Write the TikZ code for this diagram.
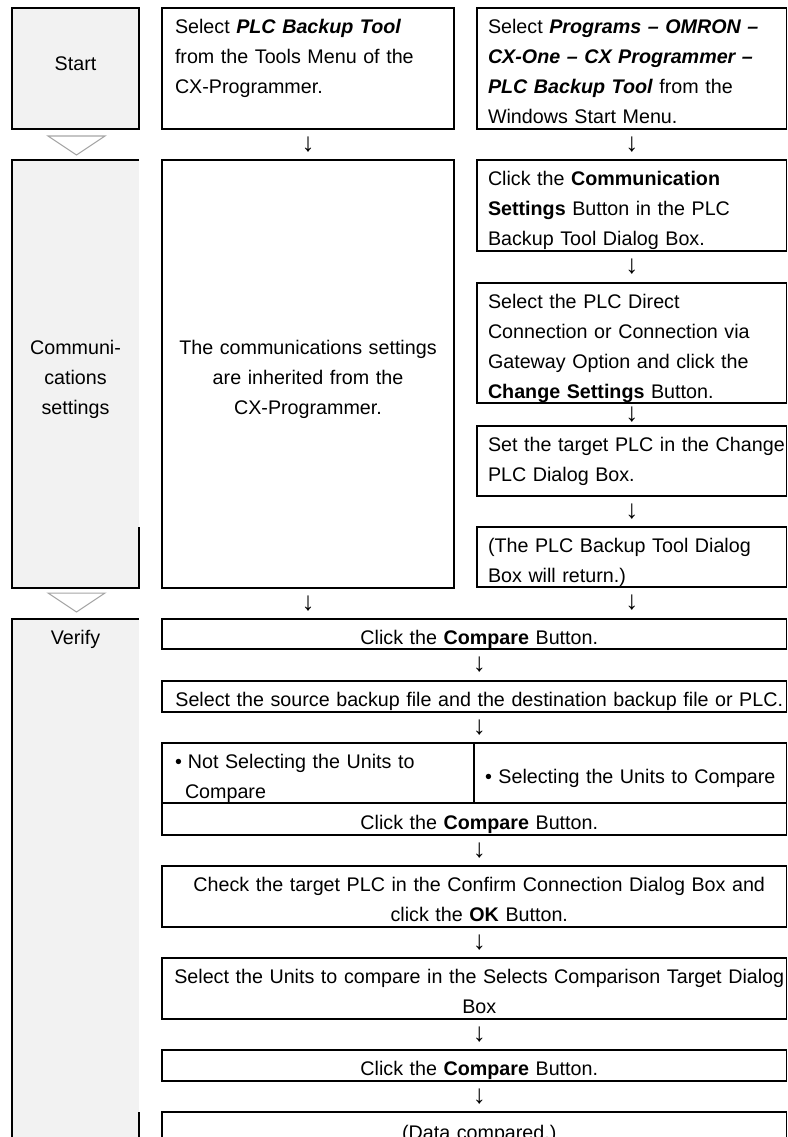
\documentclass[tikz,border=0pt]{standalone}
\usepackage{fontspec}
\setmainfont{Liberation Sans}
\usetikzlibrary{calc}
\definecolor{cellgray}{HTML}{F2F2F2}
\definecolor{trigray}{HTML}{A6A6A6}
\newcommand\lz{\rule[-5pt]{0pt}{30pt}}
\newcommand\ml[1]{\lz\hspace*{11pt}\mbox{#1}}
\newcommand\mm[1]{\lz\hspace*{13pt}\mbox{#1}}
\newcommand\mc[1]{\lz\makebox[624pt][c]{\hspace*{10pt}#1}}
\newcommand\bi[1]{\textbf{\textit{#1}}}
\newcommand\dep[1]{\rule[-#1]{0pt}{#1}}
\begin{document}
\begin{tikzpicture}[x=1pt,y=-1pt,
  every node/.style={font=\fontsize{19.7}{30}\selectfont,inner sep=0pt,outer sep=0pt},
  frame/.style={draw=black,line width=1.1pt},
  cell/.style 2 args={anchor=north west,minimum width=#1,minimum height=#2,text width=#1},
  cellfill/.style={fill=cellgray},
  tri/.style={draw=trigray,fill=white,line width=1pt},
  arr/.style={anchor=center,font=\fontsize{26}{26}\selectfont},
  vshift/.style={xshift=5pt}
]
\useasboundingbox (0,0) rectangle (787,1137);
\fill[white] (0,0) rectangle (787,1137);

% left column (phases)
\node[cell={127pt}{121pt},frame,cellfill,align=center] (s1) at (12,8) {\lz Start\dep{21pt}};
\node[cell={127pt}{428pt},cellfill,align=center] (c1) at (12,160) {\lz Communi-\\\lz cations\\\lz settings};
\draw[line width=1.1pt] (c1.north east) -- (c1.north west) -- (c1.south west) -- (c1.south east) -- ++(0,-61);
\node[cell={127pt}{541pt},cellfill,align=center] (v0) at (12,619) {\lz Verify\dep{516pt}};
\draw[line width=1.1pt] (v0.south west) -- (v0.north west) -- (v0.north east);
\draw[line width=1.1pt] (v0.north east) ++(0,493) -- (v0.south east);

\draw[tri] (48,136) -- (105,136) -- (76.5,155) -- cycle;
\draw[tri] (48,593) -- (105,593) -- (76.5,612) -- cycle;

% start row
\node[cell={292pt}{121pt},frame,align=left] (s2) at (162,8)
  {\mm{Select \bi{PLC Backup Tool}}\\\mm{from the Tools Menu of the}\\\mm{CX-Programmer.}\\\lz};
\node[cell={309.5pt}{121pt},frame,align=left] (s3) at (477,8)
  {\ml{Select \bi{Programs – OMRON –}}\\\ml{\bi{CX-One – CX Programmer –}}\\\ml{\bi{PLC Backup Tool} from the}\\\ml{Windows Start Menu.}};

% communications settings
\node[cell={292pt}{428pt},frame,align=center] (c2) at (162,160)
  {\lz The communications settings\\\lz are inherited from the\\\lz CX-Programmer.};
\node[cell={309.5pt}{91pt},frame,align=left] (r1) at (477,160)
  {\ml{Click the \textbf{Communication}}\\\ml{\textbf{Settings} Button in the PLC}\\\ml{Backup Tool Dialog Box.}};
\node[cell={309.5pt}{120pt},frame,align=left] (r2) at (477,283)
  {\ml{Select the PLC Direct}\\\ml{Connection or Connection via}\\\ml{Gateway Option and click the}\\\ml{\textbf{Change Settings} Button.}};
\node[cell={309.5pt}{70pt},frame,align=left] (r3) at (477,426)
  {\ml{Set the target PLC in the Change}\\\ml{PLC Dialog Box.}\dep{15pt}};
\node[cell={309.5pt}{60pt},frame,align=left] (r4) at (477,527)
  {\ml{(The PLC Backup Tool Dialog}\\\ml{Box will return.)}};

% verify
\node[cell={624.5pt}{30pt},frame,align=center] (v1) at (162,619)
  {\mc{Click the \textbf{Compare} Button.}};
\node[cell={624.5pt}{31pt},frame,align=center] (v2) at (162,681)
  {\mc{Select the source backup file and the destination backup file or PLC.}};
\node[cell={312pt}{60pt},frame,align=left] (v3a) at (162,743)
  {\mm{•\hspace{6pt}Not Selecting the Units to}\\\lz\hspace*{23pt}\mbox{Compare}};
\node[cell={312.5pt}{60pt},frame,align=center] (v3b) at (474,743)
  {\lz\mbox{•~Selecting the Units to Compare}};
\node[cell={624.5pt}{32pt},frame,align=center] (v4) at (162,803)
  {\mc{Click the \textbf{Compare} Button.}};
\node[cell={624.5pt}{61pt},frame,align=center] (v5) at (162,866)
  {\mc{Check the target PLC in the Confirm Connection Dialog Box and}\\\mc{click the \textbf{OK} Button.}};
\node[cell={624.5pt}{61pt},frame,align=center] (v6) at (162,958)
  {\mc{Select the Units to compare in the Selects Comparison Target Dialog}\\\mc{Box}};
\node[cell={624.5pt}{31pt},frame,align=center] (v7) at (162,1050)
  {\mc{Click the \textbf{Compare} Button.}};
\node[cell={624.5pt}{34pt},frame,align=center] (v8) at (162,1112)
  {\mc{(Data compared.)}};

% arrows (printed as glyphs)
\node[arr] (a1) at ($(s2.south)!0.5!(c2.north)$) {↓};
\node[arr] (a2) at ($(s3.south)!0.5!(r1.north)$) {↓};
\node[arr] (a3) at ($(r1.south)!0.5!(r2.north)$) {↓};
\node[arr] (a4) at ($(r2.south)!0.5!(r3.north)$) {↓};
\node[arr] (a5) at ($(r3.south)!0.5!(r4.north)$) {↓};
\node[arr] (a6) at ($(c2.south)!0.5!(c2.south |- v1.north)$) {↓};
\node[arr] (a7) at ($(r4.south)!0.5!(r4.south |- v1.north)$) {↓};
\node[arr,vshift] (a8) at ($(v1.south)!0.5!(v2.north)$) {↓};
\node[arr,vshift] (a9) at ($(v2.south)!0.5!(v2.south |- v3a.north)$) {↓};
\node[arr,vshift] (a10) at ($(v4.south)!0.5!(v5.north)$) {↓};
\node[arr,vshift] (a11) at ($(v5.south)!0.5!(v6.north)$) {↓};
\node[arr,vshift] (a12) at ($(v6.south)!0.5!(v7.north)$) {↓};
\node[arr,vshift] (a13) at ($(v7.south)!0.5!(v8.north)$) {↓};
\end{tikzpicture}
\end{document}
